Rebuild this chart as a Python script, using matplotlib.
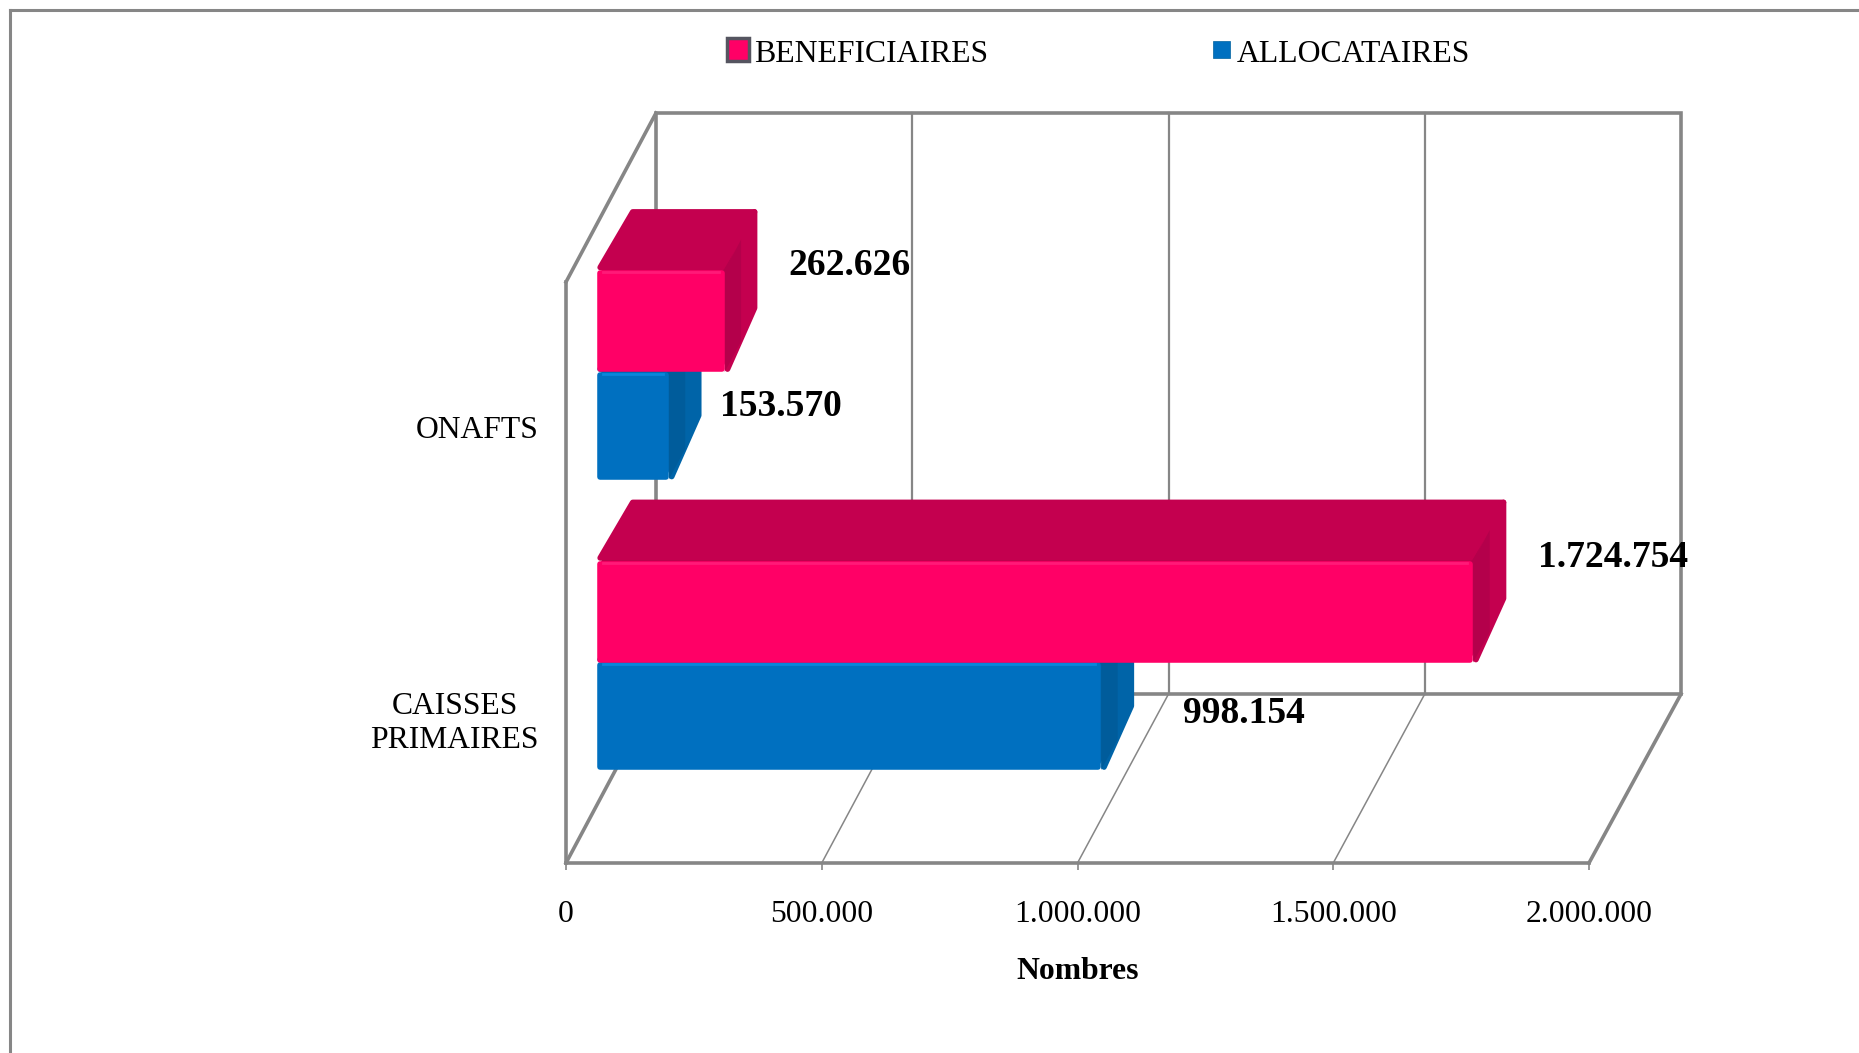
import matplotlib
matplotlib.use('Agg')
import matplotlib.pyplot as plt
from matplotlib.patches import Polygon, Rectangle
from matplotlib.ticker import FuncFormatter

plt.rcParams['font.family'] = ['Liberation Serif', 'DejaVu Serif']

categories = ['CAISSES\nPRIMAIRES', 'ONAFTS']
allocataires = [998154, 153570]
beneficiaires = [1724754, 262626]
ticks = [0, 500000, 1000000, 1500000, 2000000]
xlabel = 'Nombres'

W, H = 1859, 1053
GREY = '#868686'
# front, top, side, side rim, highlight
PINK = ('#FF0066', '#C4004F', '#B4004B', '#C4004F', '#FF1A78')
BLUE = ('#0070C0', '#00619F', '#005C9B', '#0064A8', '#0A86DC')

fig = plt.figure(figsize=(W / 100, H / 100), dpi=100)
ax = fig.add_axes([566 / W, 1 - 863 / H, 1023 / W, 581 / H])
ax.set_xlim(0, 2000000)
ax.set_ylim(0, 2)

# depth of the 3d box, in data units
PX = 2000000 / 1023
PY = 2 / 581
DX = 90 * PX
DY = 169 * PY
STRETCH = 0.002
# bars sit inside the box, ends pulled in a little because of the bevel
D_FRONT = 0.348
D_BACK = 0.71
TRIM = 13700
PINK_H = 0.35
BLUE_H = 0.37
INSET = 2.8


def skew(v, y, d):
    return (v * (1 + d * STRETCH) + d * DX, y + d * DY)


def wire(pts, lw):
    ax.plot([p[0] for p in pts], [p[1] for p in pts], color=GREY, lw=lw,
            clip_on=False, solid_capstyle='projecting', solid_joinstyle='miter', zorder=1)


def shrink(pts):
    mx = sum(p[0] for p in pts) / len(pts)
    my = sum(p[1] for p in pts) / len(pts)
    return [(p[0] + (INSET * PX if p[0] < mx else -INSET * PX),
             p[1] + (INSET * PY if p[1] < my else -INSET * PY)) for p in pts]


def face(pts, color, z):
    # pull the corners in and stroke wide with round joins, gives the soft bevel
    ax.add_patch(Polygon(shrink(pts), closed=True, facecolor=color, edgecolor=color, lw=4,
                         joinstyle='round', clip_on=False, zorder=z))


def bar(v, y0, y1, colors, z):
    v = v - TRIM
    # dark underlay so no white shows between the bevelled faces
    ax.add_patch(Polygon(shrink([skew(0, y1, D_FRONT), skew(0, y1, D_BACK), skew(v, y1, D_BACK),
                                 skew(v, y0, D_BACK), skew(v, y0, D_FRONT), skew(0, y0, D_FRONT)]),
                         closed=True, facecolor=colors[2], edgecolor='none', clip_on=False, zorder=z - 0.01))
    face([skew(0, y1, D_FRONT), skew(v, y1, D_FRONT), skew(v, y1, D_BACK), skew(0, y1, D_BACK)], colors[1], z)
    face([skew(v, y0, D_FRONT), skew(v, y0, D_BACK), skew(v, y1, D_BACK), skew(v, y1, D_FRONT)], colors[3], z + 0.01)
    d_mid = (D_FRONT + D_BACK) / 2
    ax.add_patch(Polygon([skew(v, y0, D_FRONT), skew(v, y0, d_mid), skew(v, y1, d_mid), skew(v, y1, D_FRONT)],
                         closed=True, facecolor=colors[2], edgecolor='none', clip_on=False, zorder=z + 0.02))
    face([skew(0, y0, D_FRONT), skew(v, y0, D_FRONT), skew(v, y1, D_FRONT), skew(0, y1, D_FRONT)], colors[0], z + 0.1)
    a = skew(0, y1, D_FRONT)
    b = skew(v, y1, D_FRONT)
    ax.plot([a[0] + 6 * PX, b[0] - 6 * PX], [a[1] - 2 * PY, b[1] - 2 * PY], color=colors[4], lw=2,
            clip_on=False, zorder=z + 0.2)


# walls and floor
wire([skew(0, 0, 1), skew(2000000, 0, 1), skew(2000000, 2, 1), skew(0, 2, 1), skew(0, 0, 1)], 2.6)
wire([skew(0, 2, 0), skew(0, 2, 1)], 2.6)
wire([skew(0, 0, 0), skew(0, 0, 1)], 2.6)
wire([skew(2000000, 0, 0), skew(2000000, 0, 1)], 2.6)
for t in ticks[1:-1]:
    wire([skew(t, 0, 1), skew(t, 2, 1)], 1.6)
    wire([skew(t, 0, 0), skew(t, 0, 1)], 1.1)

# bars, top group first so the lower one overlaps it
for i in [1, 0]:
    c = i + 0.5 - 0.012
    bar(allocataires[i], c - BLUE_H, c, BLUE, 3 + (1 - i) * 2)
    bar(beneficiaires[i], c, c + PINK_H, PINK, 4 + (1 - i) * 2)

# value labels
nudge_a = [(106, 4), (75, 21)]
nudge_b = [(90, 160), (88, 162)]
for i in range(2):
    ax.annotate(f'{allocataires[i]:,}'.replace(',', '.'), (allocataires[i], i + 0.5),
                xytext=nudge_a[i], textcoords='offset pixels', ha='left', va='center',
                fontsize=27, fontweight='bold', annotation_clip=False, zorder=10)
    ax.annotate(f'{beneficiaires[i]:,}'.replace(',', '.'), (beneficiaires[i], i + 0.5),
                xytext=nudge_b[i], textcoords='offset pixels', ha='left', va='center',
                fontsize=27, fontweight='bold', annotation_clip=False, zorder=10)

# axes
for s in ['top', 'right']:
    ax.spines[s].set_visible(False)
for s in ['left', 'bottom']:
    ax.spines[s].set_color(GREY)
    ax.spines[s].set_linewidth(2.6)
ax.patch.set_alpha(0)
ax.set_xticks(ticks)
ax.xaxis.set_major_formatter(FuncFormatter(lambda x, p: f'{int(x):,}'.replace(',', '.')))
ax.tick_params(axis='x', length=5, width=1.2, color=GREY, labelsize=22.8, pad=21.5)
ax.set_yticks([0.5, 1.5])
ax.set_yticklabels(categories, multialignment='center')
ax.tick_params(axis='y', length=0, labelsize=22.8, pad=19.5)
ax.set_xlabel(xlabel, fontsize=22.8, fontweight='bold', labelpad=20.5)

# outer frame, only top and left show
fig.add_artist(plt.Line2D([10 / W, 10 / W], [0, 1 - 10 / H], color=GREY, lw=2.2))
fig.add_artist(plt.Line2D([10 / W, 1], [1 - 10 / H, 1 - 10 / H], color=GREY, lw=2.2))

# legend
fig.add_artist(Rectangle((727 / W, 1 - 61 / H), 22 / W, 23 / H, transform=fig.transFigure,
                         facecolor=PINK[0], edgecolor='#555560', lw=2.5))
fig.add_artist(Rectangle((1213 / W, 1 - 58 / H), 17 / W, 17 / H, transform=fig.transFigure,
                         facecolor=BLUE[0], edgecolor='#00619F', lw=0.5))
fig.text(754 / W, 1 - 55 / H, 'BENEFICIAIRES', fontsize=22.9, va='center', ha='left')
fig.text(1237 / W, 1 - 55 / H, 'ALLOCATAIRES', fontsize=22.9, va='center', ha='left')

fig.savefig('out.png', dpi=100)
